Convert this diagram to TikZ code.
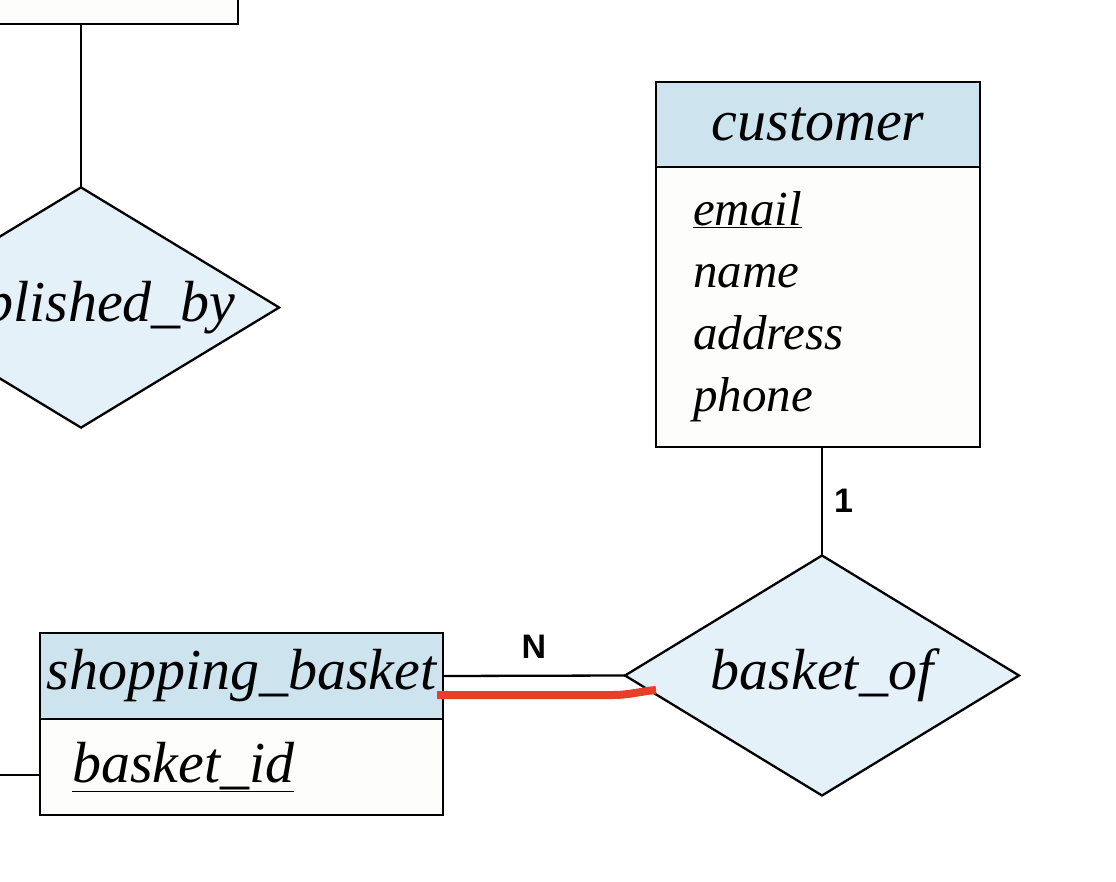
\documentclass[tikz,border=0pt]{standalone}
\usepackage{fontspec}
\setmainfont{Liberation Serif}
\setsansfont{Liberation Sans}
\usetikzlibrary{shapes.geometric,positioning}
\definecolor{headblue}{RGB}{205,228,239}
\definecolor{relblue}{RGB}{228,241,248}
\definecolor{bodywhite}{RGB}{253,253,251}
\definecolor{partred}{RGB}{232,64,38}
\begin{document}
\begin{tikzpicture}[x=1pt,y=-1pt,line width=2.3pt,
  enthead/.style={draw,fill=headblue,inner sep=0,outer sep=0,anchor=north west,
    font=\fontsize{58}{60}\selectfont\itshape},
  entbody/.style={draw,fill=bodywhite,inner ysep=0,outer sep=0,anchor=north,align=left},
  rel/.style={draw,diamond,fill=relblue,aspect=1.65,inner sep=0,outer sep=0,
    minimum width=394,minimum height=240,font=\fontsize{58}{60}\selectfont\itshape},
  card/.style={inner sep=0,font=\fontsize{34}{36}\selectfont\sffamily\bfseries}]
  \useasboundingbox (0,0) rectangle (1116,882);
  \clip (0,0) rectangle (1116,882);
  % entity cut off at the top left
  \node[draw,fill=bodywhite,outer sep=0,minimum width=400,minimum height=200,anchor=south east] (leftent) at (238,24) {};
  \node[rel] (pubby) at (81,307.5) {published\_by};
  \draw (pubby.north |- leftent.south) -- (pubby.north);
  % customer
  \node[enthead,minimum width=324,minimum height=85] (custhead) at (656,82) {customer};
  \node[entbody,minimum width=324,minimum height=280,text width=250,inner xsep=37,
    font=\fontsize{49}{62}\selectfont\itshape] (custbody) at (custhead.south)
    {\underline{email}\\name\\address\\phone};
  % shopping_basket
  \node[enthead,minimum width=403,minimum height=86] (bashead) at (40,633) {shopping\_basket};
  \node[entbody,minimum width=403,minimum height=96,text width=339,inner xsep=32,
    font=\fontsize{58}{60}\selectfont\itshape] (basbody) at (bashead.south)
    {\underline{basket\_id}};
  \coordinate (basleft) at (-10,775);
  \draw (basleft) -- (basleft -| basbody.west);
  % basket_of
  \node[rel] (basof) at (822,675.5) {basket\_of};
  \draw (basof.north |- custbody.south) -- (basof.north) node[card,midway,right=11pt] (one) {1};
  \draw (bashead.east) -- (basof.west) node[card,midway,above=16pt] (many) {N};
  \coordinate (redend) at (656,690);
  \draw[partred,line width=8,line cap=butt] ([shift={(-6,19)}]bashead.east) -- ++(176,0)
    to[out=0,in=185] (redend);
\end{tikzpicture}
\end{document}
